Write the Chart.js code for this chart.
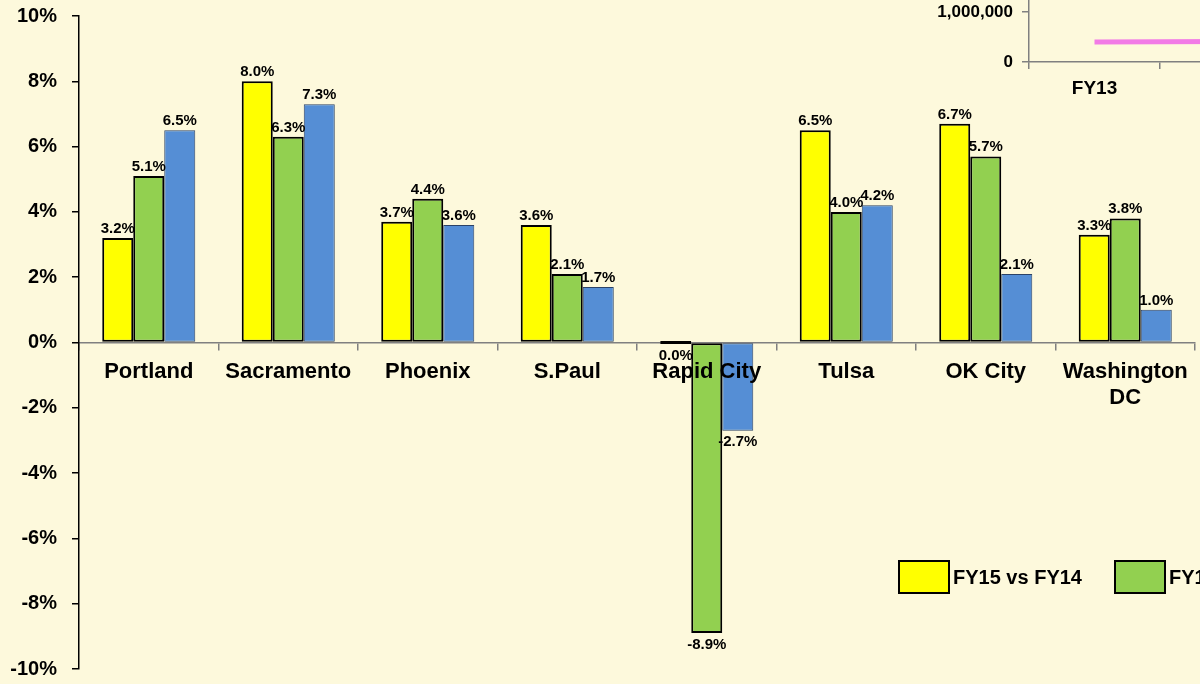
<!DOCTYPE html>
<html>
<head>
<meta charset="utf-8">
<script src="https://cdn.jsdelivr.net/npm/chart.js@4.4.1/dist/chart.umd.min.js"></script>
<style>
  html, body { margin: 0; padding: 0; background: #FDF9DC; }
  #wrap { position: relative; width: 1200px; height: 684px; overflow: hidden; background: #FDF9DC; }
  #main { position: absolute; left: 0; top: 0; }
  #inset { position: absolute; left: 900px; top: -100px; }
  .leg { position: absolute; top: 560px; display: flex; align-items: center; white-space: nowrap;
         font: bold 20px "Liberation Sans", Arial, sans-serif; color: #000; }
  .leg span.box { display: inline-block; width: 48px; height: 30px; border: 2px solid #000; margin-right: 3px; }
</style>
</head>
<body>
<div id="wrap">
  <canvas id="main" width="1200" height="684"></canvas>
  <canvas id="inset" width="700" height="210"></canvas>
</div>
<script>
// categories and series
const cities = ['Portland', 'Sacramento', 'Phoenix', 'S.Paul', 'Rapid City', 'Tulsa', 'OK City', ['Washington', 'DC']];
const seriesNames = ['FY15 vs FY14', 'FY14 vs FY13', 'FY13 vs FY12'];
const fy15vs14 = [3.2, 8.0, 3.7, 3.6, 0.0, 6.5, 6.7, 3.3];
const fy14vs13 = [5.1, 6.3, 4.4, 2.1, -8.9, 4.0, 5.7, 3.8];
const fy13vs12 = [6.5, 7.3, 3.6, 1.7, -2.7, 4.2, 2.1, 1.0];
const yMin = -10, yMax = 10, yStep = 2;

// small line chart peeking in at the top right
const insetYears = ['FY13', 'FY14', 'FY15', 'FY16'];
const insetValues = [400000, 410000, 420000, 430000];

const FONT = "'Liberation Sans', Arial, sans-serif";
const fills = ['#FFFF00', '#92D050', '#558ED5'];
const borders = ['#000000', '#000000', '#2B4266'];
const borderW = [2, 2, 1];

// value labels above / below each bar
const barLabels = {
  id: 'barLabels',
  afterDatasetsDraw(chart) {
    const ctx = chart.ctx;
    ctx.save();
    ctx.font = 'bold 15px ' + FONT;
    ctx.fillStyle = '#000';
    ctx.textAlign = 'center';
    chart.data.datasets.forEach((ds, i) => {
      chart.getDatasetMeta(i).data.forEach((bar, j) => {
        const v = ds.data[j];
        const txt = v.toFixed(1) + '%';
        if (v > 0) {
          ctx.textBaseline = 'alphabetic';
          ctx.fillText(txt, bar.x, bar.y - 5);
        } else {
          ctx.textBaseline = 'top';
          ctx.fillText(txt, bar.x, Math.max(bar.y, bar.base) + 4);
        }
      });
    });
    ctx.restore();
  }
};

const seriesData = [fy15vs14, fy14vs13, fy13vs12];

new Chart(document.getElementById('main'), {
  type: 'bar',
  data: {
    labels: cities,
    datasets: seriesData.map((d, i) => ({
      label: seriesNames[i],
      data: d,
      backgroundColor: fills[i],
      borderColor: borders[i],
      borderWidth: borderW[i],
      borderSkipped: false,
      minBarLength: i === 0 ? 3 : 0,
      categoryPercentage: 0.667,
      barPercentage: 1.0
    }))
  },
  options: {
    responsive: false,
    animation: false,
    events: [],
    layout: { padding: { left: 0, right: 5, top: 16, bottom: 15 } },
    plugins: { legend: { display: false }, tooltip: { enabled: false } },
    scales: {
      x: {
        position: { y: 0 },
        offset: true,
        grid: { display: true, drawOnChartArea: false, offset: true, tickLength: 7, color: '#808080', lineWidth: 1.5 },
        border: { color: '#808080', width: 1.5 },
        ticks: {
          z: 1,
          color: '#000',
          font: { family: FONT, size: 22, weight: 'bold', lineHeight: 1.2 },
          padding: 9,
          maxRotation: 0,
          autoSkip: false
        }
      },
      y: {
        min: yMin,
        max: yMax,
        afterFit(scale) {
          scale.width = 79;
          scale.paddingTop = 0;
          scale.paddingBottom = 0;
        },
        grid: { drawOnChartArea: false, tickLength: 7, color: '#000', lineWidth: 1.5 },
        border: { color: '#000', width: 1.5 },
        ticks: {
          stepSize: yStep,
          color: '#000',
          padding: 15,
          font: { family: FONT, size: 20, weight: 'bold' },
          callback: v => v + '%'
        }
      }
    }
  },
  plugins: [barLabels]
});

new Chart(document.getElementById('inset'), {
  type: 'line',
  data: {
    labels: insetYears,
    datasets: [{
      data: insetValues,
      borderColor: '#F27BE6',
      borderWidth: 5,
      pointRadius: 0,
      fill: false,
      tension: 0
    }]
  },
  options: {
    responsive: false,
    animation: false,
    events: [],
    layout: { padding: { left: 0, right: 47, top: 62, bottom: 0 } },
    plugins: { legend: { display: false }, tooltip: { enabled: false } },
    scales: {
      x: {
        offset: true,
        afterFit(scale) { scale.height = 48; },
        grid: { drawOnChartArea: false, offset: true, tickLength: 7, color: '#808080', lineWidth: 1.5 },
        border: { color: '#808080', width: 1.5 },
        ticks: { color: '#000', padding: 8, font: { family: FONT, size: 19, weight: 'bold' } }
      },
      y: {
        min: 0,
        max: 2000000,
        afterFit(scale) { scale.width = 129; },
        grid: { drawOnChartArea: false, tickLength: 7, color: '#808080', lineWidth: 1.5 },
        border: { color: '#808080', width: 1.5 },
        ticks: {
          stepSize: 1000000,
          color: '#000',
          padding: 9,
          font: { family: FONT, size: 17, weight: 'bold' },
          callback: v => v.toLocaleString('en-US')
        }
      }
    }
  }
});

// legend at the bottom right, partly off the slide
const wrap = document.getElementById('wrap');
seriesNames.forEach((name, i) => {
  const item = document.createElement('div');
  item.className = 'leg';
  item.style.left = (898 + i * 216) + 'px';
  const box = document.createElement('span');
  box.className = 'box';
  box.style.background = fills[i];
  item.appendChild(box);
  item.appendChild(document.createTextNode(name));
  wrap.appendChild(item);
});
</script>
</body>
</html>
